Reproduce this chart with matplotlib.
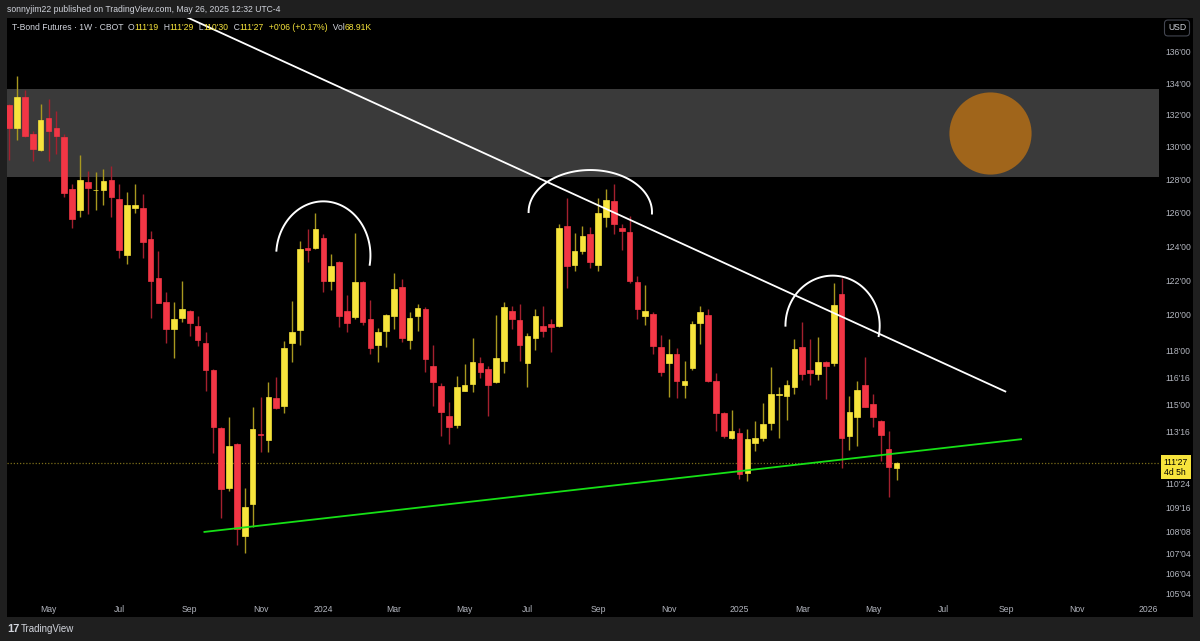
import numpy as np
import pandas as pd
import matplotlib
matplotlib.use("Agg")
import matplotlib.pyplot as plt
import matplotlib.dates as mdates
from matplotlib.ticker import FixedLocator, FixedFormatter, NullLocator
from matplotlib.offsetbox import TextArea, HPacker, AnchoredOffsetbox
from matplotlib.patches import Rectangle

plt.rcParams['font.family'] = ['Liberation Sans', 'DejaVu Sans']

# weekly T-Bond futures bars, first bar is the week of 2023-03-27
first_week = "2023-03-27"
opens = [132.59, 131.15, 133.11, 130.80, 129.78, 131.81, 131.15, 130.59, 127.44, 126.14,
         127.84, 127.32, 127.38, 127.94, 126.78, 123.49, 126.24, 126.24, 124.44, 122.12,
         120.76, 119.18, 119.85, 120.25, 119.35, 118.40, 116.92, 113.74, 110.52, 112.85,
         108.01, 109.67, 113.41, 113.06, 115.33, 114.89, 118.42, 119.14, 123.86, 123.88,
         124.50, 121.96, 123.07, 120.25, 119.86, 121.92, 119.77, 118.32, 119.06, 119.92,
         121.58, 118.59, 119.96, 120.36, 117.10, 116.02, 114.36, 113.90, 115.76, 116.11,
         117.29, 116.96, 116.24, 117.41, 120.25, 119.73, 117.30, 118.69, 119.39, 119.46,
         119.35, 125.20, 122.91, 123.68, 124.74, 122.91, 125.70, 126.70, 125.04, 124.84,
         121.92, 119.96, 120.07, 118.19, 117.27, 117.81, 116.09, 117.02, 119.52, 120.00,
         116.28, 114.51, 113.17, 113.46, 111.33, 112.90, 113.20, 113.98, 115.52, 115.44,
         115.93, 118.21, 116.92, 116.68, 117.36, 117.27, 121.20, 113.29, 114.29, 116.09,
         115.04, 114.07, 112.56, 111.59]
highs = [132.70, 134.43, 133.58, 130.95, 132.65, 133.01, 132.23, 130.76, 127.74, 129.50,
         128.50, 128.44, 128.62, 128.81, 127.74, 127.20, 127.74, 127.08, 124.88, 123.70,
         121.29, 120.72, 121.96, 120.30, 119.96, 119.01, 116.95, 113.75, 114.32, 112.90,
         110.52, 114.84, 115.39, 116.21, 116.50, 118.53, 120.78, 124.30, 125.02, 125.94,
         124.74, 123.51, 123.10, 121.14, 124.78, 121.95, 120.87, 119.23, 120.05, 122.39,
         122.08, 120.19, 120.65, 120.47, 118.30, 116.19, 115.15, 116.55, 117.23, 118.70,
         117.63, 117.14, 120.00, 120.76, 120.53, 120.63, 118.95, 120.34, 120.53, 119.75,
         125.28, 126.84, 124.80, 125.18, 125.14, 126.84, 127.44, 127.70, 125.30, 125.78,
         122.26, 121.71, 120.19, 118.86, 118.63, 118.15, 117.41, 119.63, 120.53, 120.34,
         116.72, 114.56, 114.71, 113.74, 113.64, 114.10, 115.06, 117.05, 115.94, 116.32,
         118.61, 119.58, 118.63, 118.72, 117.40, 121.83, 122.15, 115.48, 116.28, 117.63,
         115.58, 114.15, 113.55, 111.91]
lows = [129.19, 130.42, 130.59, 129.15, 129.75, 129.09, 129.56, 126.90, 125.04, 125.74,
        125.88, 126.14, 126.42, 125.70, 123.29, 122.95, 125.98, 123.29, 119.81, 120.66,
        118.43, 117.59, 119.62, 118.80, 118.25, 115.76, 112.35, 108.93, 110.36, 107.54,
        107.13, 108.48, 112.40, 112.40, 114.75, 114.51, 117.32, 118.29, 123.05, 123.85,
        121.29, 121.45, 119.33, 119.01, 119.77, 119.45, 117.81, 117.36, 118.21, 119.18,
        118.46, 118.09, 119.06, 116.77, 114.89, 113.29, 112.85, 113.72, 115.72, 115.69,
        116.44, 114.34, 116.20, 116.72, 119.20, 117.41, 115.94, 118.02, 118.72, 117.91,
        119.30, 121.54, 122.51, 123.51, 122.69, 122.51, 125.14, 124.74, 123.74, 121.81,
        119.77, 119.45, 117.81, 116.54, 115.39, 115.36, 115.33, 116.91, 118.34, 116.22,
        113.55, 113.20, 113.11, 110.97, 110.88, 112.49, 113.02, 113.59, 113.15, 114.14,
        115.58, 116.37, 116.08, 116.32, 115.30, 117.12, 111.57, 112.53, 112.76, 114.84,
        113.77, 111.92, 110.05, 110.94]
closes = [131.15, 133.11, 130.68, 129.86, 131.64, 130.95, 130.69, 127.14, 125.60, 127.94,
          127.48, 127.38, 127.90, 126.92, 123.74, 126.46, 126.42, 124.24, 121.96, 120.70,
          119.18, 119.77, 120.36, 119.56, 118.57, 116.91, 113.77, 110.44, 112.76, 108.39,
          109.54, 113.65, 113.36, 115.43, 114.80, 118.15, 119.01, 123.82, 123.79, 125.02,
          121.96, 122.85, 119.96, 119.54, 121.90, 119.58, 118.15, 119.05, 120.02, 121.49,
          118.69, 119.81, 120.42, 117.51, 116.22, 114.60, 113.79, 115.94, 116.06, 117.32,
          116.77, 116.04, 117.54, 120.43, 119.77, 118.29, 118.82, 119.96, 119.10, 119.29,
          125.08, 122.85, 123.70, 124.62, 123.09, 125.94, 126.74, 125.28, 124.88, 121.96,
          120.34, 120.25, 118.25, 116.81, 117.81, 116.28, 116.30, 119.49, 120.15, 116.26,
          114.51, 113.29, 113.55, 111.24, 113.11, 113.20, 113.92, 115.58, 115.58, 116.09,
          118.09, 116.65, 116.72, 117.36, 117.10, 120.59, 113.17, 114.60, 115.80, 114.87,
          114.30, 113.34, 111.64, 111.84]

last_price = 111.84
zone_low, zone_high = 128.14, 133.60

price_ticks = [136, 134, 132, 130, 128, 126, 124, 122, 120, 118, 116.5, 115, 113.5,
               110.75, 109.5, 108.25, 107.125, 106.125, 105.125]
price_labels = ["136'00", "134'00", "132'00", "130'00", "128'00", "126'00", "124'00",
                "122'00", "120'00", "118'00", "116'16", "115'00", "113'16", "110'24",
                "109'16", "108'08", "107'04", "106'04", "105'04"]
month_ticks = [(2023, 5), (2023, 7), (2023, 9), (2023, 11), (2024, 1), (2024, 3),
               (2024, 5), (2024, 7), (2024, 9), (2024, 11), (2025, 1), (2025, 3),
               (2025, 5), (2025, 7), (2025, 9), (2025, 11), (2026, 1)]

# hand drawn stuff
down_line_dates = ["2023-08-30", "2025-08-31"]
down_line_prices = [138.34, 115.71]
up_line_dates = ["2023-09-17", "2025-09-14"]
up_line_prices = [108.23, 113.11]
arc_centers = ["2024-01-01", "2024-08-26", "2025-03-30"]
arc_mid_prices = [123.45, 126.02, 119.39]
arc_half_days = [42, 55, 42]
arc_heights = [0.0257, 0.020, 0.0238]
arc_spans = [(175, -10), (180, -2), (180, -12)]
circle_date = "2025-08-17"
circle_price = 130.83

col_up, col_dn = "#f7e43c", "#f23645"
wick_up, wick_dn = "#a8981f", "#a3202e"
txt = "#b2b5be"

fig = plt.figure(figsize=(12, 6.41), dpi=100, facecolor="#1f1f1f")
fig.patches.append(Rectangle((7 / 1200, 24 / 641), 1186 / 1200, 599 / 641,
                             transform=fig.transFigure, facecolor="black", zorder=-5))
ax = fig.add_axes([7 / 1200, 44 / 641, 1152 / 1200, 579 / 641], facecolor="black")

dates = pd.date_range(first_week, periods=len(opens), freq="7D")
x = mdates.date2num(dates)
o, h, l, c = map(np.array, (opens, highs, lows, closes))
up = c >= o

ax.axhspan(zone_low, zone_high, color="#3a3a3a", zorder=1, lw=0)
ax.vlines(x, l, h, colors=np.where(up, wick_up, wick_dn), lw=1, zorder=3)
lo, hi = np.minimum(o, c), np.maximum(o, c)
ax.bar(x, hi - lo, bottom=lo, width=5.0, color=np.where(up, col_up, col_dn),
       edgecolor=np.where(up, col_up, col_dn), lw=0.5, zorder=4)

ax.axhline(last_price, color="#7d6f1a", lw=0.9, ls=(0, (1, 1.5)), zorder=2)

ax.plot(mdates.datestr2num(down_line_dates), down_line_prices, color="white", lw=1.3, zorder=5)
ax.plot(mdates.datestr2num(up_line_dates), up_line_prices, color="#16e016", lw=1.3, zorder=5)

for cd, mp, hd, hh, (t0, t1) in zip(arc_centers, arc_mid_prices, arc_half_days, arc_heights, arc_spans):
    t = np.radians(np.linspace(t0, t1, 80))
    ax.plot(mdates.datestr2num(cd) + hd * np.cos(t), mp * np.exp(hh * np.sin(t)),
            color="white", lw=1.4, zorder=5)

ax.scatter([mdates.datestr2num(circle_date)], [circle_price], s=3500, color="#a0651b",
           zorder=5, lw=0)

ax.set_yscale("log")
ax.set_ylim(104.93, 138.21)
ax.set_xlim(mdates.datestr2num("2023-03-25"), mdates.datestr2num("2026-01-15"))

ax.yaxis.set_major_locator(FixedLocator(price_ticks))
ax.yaxis.set_major_formatter(FixedFormatter(price_labels))
ax.yaxis.set_minor_locator(NullLocator())
ax.yaxis.tick_right()

def first_monday(y, m):
    d = pd.Timestamp(y, m, 1)
    return d + pd.Timedelta(days=(7 - d.weekday()) % 7)

mt = [mdates.date2num(first_monday(y, m)) for y, m in month_ticks]
ml = [str(y) if m == 1 else pd.Timestamp(y, m, 1).strftime("%b") for y, m in month_ticks]
ax.xaxis.set_major_locator(FixedLocator(mt))
ax.xaxis.set_major_formatter(FixedFormatter(ml))
ax.xaxis.set_minor_locator(NullLocator())
ax.tick_params(axis="both", length=0, colors=txt, labelsize=6.2)
ax.tick_params(axis="y", pad=4.5)
ax.tick_params(axis="x", pad=6)
for s in ax.spines.values():
    s.set_visible(False)

# current price tag
ax.annotate("111'27\n4d 5h", xy=(1.0, last_price), xycoords=("axes fraction", "data"),
            xytext=(3.5, -3), textcoords="offset points", ha="left", va="center",
            fontsize=6.2, color="black", linespacing=1.15, annotation_clip=False,
            bbox=dict(boxstyle="square,pad=0.3", fc="#f7e43c", ec="none"))

fig.text(1177 / 1200, 1 - 28 / 641, "USD", ha="center", va="center", fontsize=6.2,
         color="#d1d4dc", bbox=dict(boxstyle="round,pad=0.4", fc="black", ec="#434651", lw=0.8))

fig.text(7 / 1200, 1 - 9.5 / 641, "sonnyjim22 published on TradingView.com, May 26, 2025 12:32 UTC-4",
         ha="left", va="center", fontsize=6.2, color="#d1d4dc")

yel = "#f7e43c"
pieces = [("T-Bond Futures \u00b7 1W \u00b7 CBOT  ", "#d1d4dc"), ("O", "#d1d4dc"), ("111'19", yel),
          ("  H", "#d1d4dc"), ("111'29", yel), ("  L", "#d1d4dc"), ("110'30", yel),
          ("  C", "#d1d4dc"), ("111'27", yel), ("  +0'06 (+0.17%)", yel),
          ("  Vol", "#d1d4dc"), ("68.91K", yel)]
boxes = [TextArea(s, textprops=dict(color=col, fontsize=6.2)) for s, col in pieces]
pack = HPacker(children=boxes, pad=0, sep=0, align="baseline")
ab = AnchoredOffsetbox(loc="upper left", child=pack, frameon=False, pad=0, borderpad=0,
                       bbox_to_anchor=(12 / 1200, 1 - 22.5 / 641), bbox_transform=fig.transFigure)
fig.add_artist(ab)

fig.text(7 / 1200, 1 - 629 / 641, "17", ha="left", va="center", fontsize=8,
         fontweight="heavy", color="#d1d4dc")
fig.text(21 / 1200, 1 - 629 / 641, "TradingView", ha="left", va="center", fontsize=7,
         color="#d1d4dc")

fig.savefig("out.png", dpi=100, facecolor=fig.get_facecolor())
